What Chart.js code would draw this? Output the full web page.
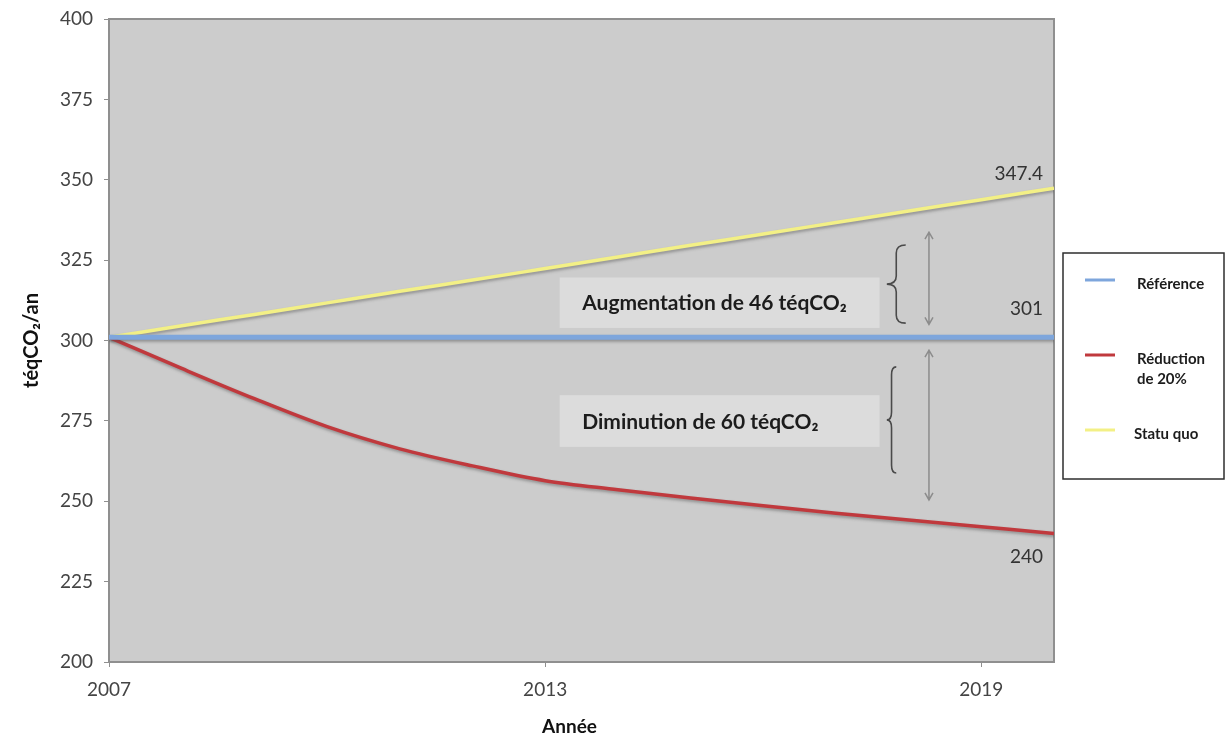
<!DOCTYPE html>
<html>
<head>
<meta charset="utf-8">
<script src="https://cdn.jsdelivr.net/npm/chart.js@4/dist/chart.umd.min.js"></script>
<style>
  html, body { margin: 0; padding: 0; background: #ffffff; }
  #wrap { width: 1225px; height: 738px; position: relative; }
</style>
</head>
<body>
<div id="wrap"><canvas id="chart" width="1225" height="738"></canvas></div>
<script>
// ---- data ----
const years = [2007, 2008, 2009, 2010, 2011, 2012, 2013, 2014, 2015, 2016, 2017, 2018, 2019, 2020];
const xTickYears = [2007, 2013, 2019];
const yTickValues = [200, 225, 250, 275, 300, 325, 350, 375, 400];

const seriesNames = ['Référence', 'Réduction de 20%', 'Statu quo'];
const reference = [301, 301, 301, 301, 301, 301, 301, 301, 301, 301, 301, 301, 301, 301];
const reduction = [301, 291.3, 281.9, 273.2, 266.3, 261.0, 256.4, 253.6, 251.0, 248.6, 246.3, 244.2, 242.1, 240];
const statuQuo  = [301, 304.6, 308.1, 311.7, 315.3, 318.8, 322.4, 326.0, 329.6, 333.1, 336.7, 340.3, 343.8, 347.4];

const noteTexts = ['Augmentation de 46 téqCO₂', 'Diminution de 60 téqCO₂'];

// ---- look ----
const FONT = "Lato, 'Open Sans', 'DejaVu Sans', sans-serif";
const colors = ['#7ea6dc', '#c0393d', '#f3f086'];
const widths = [5, 3.5, 3.5];

// callout boxes, braces and arrows, placed in axis units
const noteBoxes = [
  { text: noteTexts[0], x0: 2013.2, x1: 2017.6, yTop: 319.6, yBottom: 303.9, textX: 2013.51 },
  { text: noteTexts[1], x0: 2013.2, x1: 2017.6, yTop: 283.0, yBottom: 266.9, textX: 2013.51 }
];
const braces = [
  { x0: 2017.70, x1: 2017.96, yTop: 329.7, yBottom: 305.4 },
  { x0: 2017.70, x1: 2017.83, yTop: 291.8, yBottom: 258.8 }
];
const arrows = [
  { x: 2018.28, yTop: 333.7, yBottom: 305.0 },
  { x: 2018.28, yTop: 297.0, yBottom: 250.4 }
];
// end-of-line value labels: dataset index and vertical shift in px
const endLabels = [
  { ds: 2, dy: -14 },
  { ds: 0, dy: -28 },
  { ds: 1, dy: 23 }
];

const toPoints = arr => arr.map((v, i) => ({ x: years[i], y: v }));

const plotFrame = {
  id: 'plotFrame',
  beforeDraw(chart) {
    const { ctx, chartArea: a } = chart;
    ctx.save();
    ctx.fillStyle = '#cccccc';
    ctx.fillRect(a.left, a.top, a.right - a.left, a.bottom - a.top);
    ctx.restore();
  },
  beforeDatasetsDraw(chart) {
    const { ctx, chartArea: a } = chart;
    ctx.save();
    ctx.strokeStyle = '#8f8f8f';
    ctx.lineWidth = 2;
    ctx.strokeRect(a.left, a.top, a.right - a.left, a.bottom - a.top);
    ctx.restore();

    // callout boxes
    const xs = chart.scales.x, ys = chart.scales.y;
    ctx.save();
    noteBoxes.forEach(b => {
      const l = xs.getPixelForValue(b.x0), r = xs.getPixelForValue(b.x1);
      const t = ys.getPixelForValue(b.yTop), btm = ys.getPixelForValue(b.yBottom);
      ctx.fillStyle = '#dcdcdc';
      ctx.fillRect(l, t, r - l, btm - t);
      ctx.fillStyle = '#1c1c1c';
      ctx.font = "bold 21px " + FONT;
      ctx.textAlign = 'left';
      ctx.textBaseline = 'middle';
      ctx.fillText(b.text, xs.getPixelForValue(b.textX), (t + btm) / 2 + 1);
    });
    ctx.restore();
  }
};

const lineShadow = {
  id: 'lineShadow',
  beforeDatasetDraw(chart) {
    const ctx = chart.ctx;
    ctx.save();
    ctx.shadowColor = 'rgba(70,70,70,0.45)';
    ctx.shadowBlur = 3;
    ctx.shadowOffsetX = 1;
    ctx.shadowOffsetY = 2;
  },
  afterDatasetDraw(chart) {
    chart.ctx.restore();
  }
};

const overlays = {
  id: 'overlays',
  afterDatasetsDraw(chart) {
    const { ctx } = chart;
    const xs = chart.scales.x, ys = chart.scales.y;

    // braces
    ctx.save();
    ctx.strokeStyle = '#4a4a4a';
    ctx.lineWidth = 1.6;
    braces.forEach(b => {
      const l = xs.getPixelForValue(b.x0), r = xs.getPixelForValue(b.x1);
      const t = ys.getPixelForValue(b.yTop), btm = ys.getPixelForValue(b.yBottom);
      const m = (t + btm) / 2, c = (l + r) / 2, k = Math.min(8, (btm - t) / 6);
      ctx.beginPath();
      ctx.moveTo(r, t);
      ctx.quadraticCurveTo(c, t, c, t + k);
      ctx.lineTo(c, m - k);
      ctx.quadraticCurveTo(c, m, l, m);
      ctx.quadraticCurveTo(c, m, c, m + k);
      ctx.lineTo(c, btm - k);
      ctx.quadraticCurveTo(c, btm, r, btm);
      ctx.stroke();
    });
    ctx.restore();

    // double-headed arrows
    ctx.save();
    ctx.strokeStyle = '#8c8c8c';
    ctx.lineWidth = 1.5;
    arrows.forEach(a => {
      const x = xs.getPixelForValue(a.x);
      const t = ys.getPixelForValue(a.yTop), b = ys.getPixelForValue(a.yBottom);
      ctx.beginPath();
      ctx.moveTo(x, t); ctx.lineTo(x, b);
      ctx.moveTo(x - 4, t + 7); ctx.lineTo(x, t); ctx.lineTo(x + 4, t + 7);
      ctx.moveTo(x - 4, b - 7); ctx.lineTo(x, b); ctx.lineTo(x + 4, b - 7);
      ctx.stroke();
    });
    ctx.restore();

    // value at the end of each line
    ctx.save();
    ctx.fillStyle = '#333333';
    ctx.font = "19px " + FONT;
    ctx.textAlign = 'right';
    ctx.textBaseline = 'middle';
    endLabels.forEach(e => {
      const data = chart.data.datasets[e.ds].data;
      const last = data[data.length - 1];
      const px = xs.getPixelForValue(last.x), py = ys.getPixelForValue(last.y);
      ctx.fillText(String(last.y), px - 11, py + e.dy);
    });
    ctx.restore();
  },
  afterDraw(chart) {
    // boxed legend to the right of the plot
    const { ctx, chartArea: a } = chart;
    const left = a.right + 9, top = 253, right = 1224, bottom = 479;
    ctx.save();
    ctx.fillStyle = '#ffffff';
    ctx.fillRect(left, top, right - left, bottom - top);
    ctx.strokeStyle = '#2e2e2e';
    ctx.lineWidth = 1.5;
    ctx.strokeRect(left, top, right - left, bottom - top);
    ctx.font = "bold 15px " + FONT;
    ctx.textBaseline = 'middle';
    ctx.textAlign = 'left';
    const maxW = 84;
    chart.data.datasets.forEach((ds, i) => {
      const y = top + 30 + 75 * i;
      // wrap label
      const words = ds.label.split(' ');
      const lines = [];
      let cur = '';
      words.forEach(w => {
        const test = cur ? cur + ' ' + w : w;
        if (ctx.measureText(test).width > maxW && cur) { lines.push(cur); cur = w; }
        else cur = test;
      });
      if (cur) lines.push(cur);
      ctx.strokeStyle = ds.borderColor;
      ctx.lineWidth = 3;
      ctx.beginPath();
      ctx.moveTo(left + 22, y - 3);
      ctx.lineTo(left + 52, y - 3);
      ctx.stroke();
      ctx.fillStyle = '#1c1c1c';
      lines.forEach((ln, j) => ctx.fillText(ln, left + 74 - (i === 2 ? 3 : 0), y + 1 + j * 20));
    });
    ctx.restore();

    // horizontal axis title, set a little left of the plot centre
    const xs = chart.scales.x;
    ctx.save();
    ctx.fillStyle = '#111111';
    ctx.font = "bold 19px " + FONT;
    ctx.textAlign = 'center';
    ctx.textBaseline = 'middle';
    ctx.fillText('Année', (a.left + a.right) / 2 - 12, xs.bottom - 11);
    ctx.restore();
  }
};

new Chart(document.getElementById('chart'), {
  type: 'line',
  data: {
    datasets: [
      { label: seriesNames[0], data: toPoints(reference) },
      { label: seriesNames[1], data: toPoints(reduction) },
      { label: seriesNames[2], data: toPoints(statuQuo) }
    ].map((d, i) => Object.assign(d, {
      borderColor: colors[i],
      backgroundColor: colors[i],
      borderWidth: widths[i],
      pointRadius: 0,
      fill: false,
      cubicInterpolationMode: 'monotone'
    }))
  },
  options: {
    responsive: false,
    animation: false,
    devicePixelRatio: 1,
    layout: { padding: { top: 19, right: 171, left: 0, bottom: 0 } },
    plugins: { legend: { display: false }, tooltip: { enabled: false } },
    scales: {
      x: {
        type: 'linear',
        min: years[0],
        max: years[years.length - 1],
        afterBuildTicks: s => { s.ticks = xTickYears.map(v => ({ value: v })); },
        afterFit: s => { s.height = 76; },
        border: { display: false },
        grid: { drawOnChartArea: false, tickLength: 5, color: '#8f8f8f', lineWidth: 1 },
        ticks: {
          callback: v => String(v),
          color: '#444444',
          font: { family: FONT, size: 19 },
          padding: 11,
          maxRotation: 0
        },
        title: { display: false }
      },
      y: {
        min: yTickValues[0],
        max: yTickValues[yTickValues.length - 1],
        afterBuildTicks: s => { s.ticks = yTickValues.map(v => ({ value: v })); },
        afterFit: s => { s.width = 109; s.paddingTop = 0; s.paddingBottom = 0; },
        border: { display: false },
        grid: { drawOnChartArea: false, tickLength: 5, color: '#8f8f8f', lineWidth: 1 },
        ticks: {
          color: '#444444',
          font: { family: FONT, size: 19 },
          padding: 11
        },
        title: {
          display: true,
          text: 'téqCO₂/an',
          color: '#111111',
          font: { family: FONT, size: 20, weight: 'bold' },
          padding: { top: 20, bottom: 0 }
        }
      }
    }
  },
  plugins: [plotFrame, lineShadow, overlays]
});
</script>
</body>
</html>
